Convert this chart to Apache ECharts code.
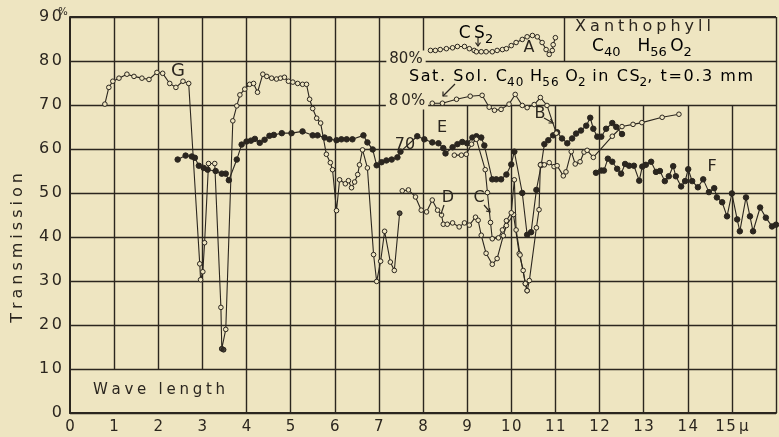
<!DOCTYPE html>
<html><head><meta charset="utf-8">
<script src="https://cdn.jsdelivr.net/npm/echarts@6/dist/echarts.min.js"></script>
<style>html,body{margin:0;padding:0;background:#eee5c1}#c{width:779px;height:437px}</style>
</head><body><div id="c"></div><script>
// ---------- data (wavelength in micron, transmission in %) ----------
const xTickValues = [0,1,2,3,4,5,6,7,8,9,10,11,12,13,14,15];
const yTickValues = [0,10,20,30,40,50,60,70,80,90];

const curveG = [[0.79,70.2],[0.88,74.0],[0.97,75.4],[1.11,76.1],[1.29,77.0],[1.45,76.5],[1.63,76.1],[1.79,75.8],[1.97,77.4],[2.10,77.2],[2.26,74.9],[2.40,74.0],[2.56,75.4],[2.69,74.9],[2.94,33.9],[2.96,30.3],[3.01,32.1],[3.05,38.7],[3.14,56.7],[3.28,56.7],[3.42,24.0],[3.44,14.6],[3.48,14.4],[3.53,19.0],[3.69,66.4],[3.78,69.8],[3.85,72.3],[3.96,73.6],[4.07,74.7],[4.16,74.9],[4.25,72.9],[4.37,77.0],[4.46,76.5],[4.57,76.1],[4.68,75.9],[4.77,76.1],[4.86,76.3],[4.95,75.4],[5.05,75.2],[5.16,74.9],[5.27,74.7],[5.36,74.7],[5.43,71.3],[5.50,69.2],[5.59,67.0],[5.68,65.9],[5.81,58.8],[5.90,56.9],[5.95,55.3],[6.04,46.0],[6.11,53.0],[6.24,52.1],[6.31,52.8],[6.38,51.2],[6.45,52.5],[6.52,54.2],[6.56,56.4],[6.63,59.8],[6.74,55.7],[6.88,36.0],[6.95,29.9],[7.04,34.5],[7.13,41.3],[7.26,34.3],[7.35,32.4],[7.47,45.4]];
const curveGDarkPoints = [[3.44,14.6],[3.48,14.4],[7.47,45.4]];

const curveE = [[2.44,57.6],[2.62,58.5],[2.76,58.3],[2.83,58.0],[2.92,56.2],[3.03,55.7],[3.12,55.3],[3.30,55.0],[3.44,54.4],[3.53,54.4],[3.60,52.9],[3.78,57.6],[3.89,61.0],[4.00,61.7],[4.10,61.9],[4.19,62.3],[4.30,61.4],[4.41,62.1],[4.52,63.0],[4.62,63.2],[4.80,63.6],[5.02,63.6],[5.27,64.0],[5.50,63.1],[5.61,63.1],[5.77,62.6],[5.88,62.2],[6.04,62.0],[6.15,62.2],[6.27,62.2],[6.40,62.2],[6.65,63.1],[6.74,61.5],[6.86,59.9],[6.95,56.3],[7.06,57.0],[7.17,57.4],[7.29,57.6],[7.42,58.1],[7.49,59.4],[7.87,62.9],[8.03,62.2],[8.21,61.5],[8.35,61.3],[8.46,60.2],[8.51,59.0],[8.67,60.4],[8.78,61.1],[8.89,61.6],[9.00,61.3],[9.12,62.6],[9.21,62.9],[9.32,62.6],[9.39,60.8],[9.57,53.1],[9.66,53.1],[9.77,53.1],[9.89,54.2],[10.00,56.5],[10.07,59.4],[10.25,50.0],[10.36,40.5],[10.45,41.1],[10.57,50.7],[10.68,56.4],[10.75,61.1],[10.84,62.0],[10.95,63.1],[11.04,63.8],[11.15,62.4],[11.27,61.3],[11.38,62.4],[11.47,63.5],[11.58,64.2],[11.70,65.3],[11.79,67.1],[11.86,64.6],[11.95,62.8],[12.04,62.8],[12.15,64.6],[12.29,65.9],[12.38,65.0],[12.51,63.4]];

const curveD = [[7.53,50.5],[7.67,50.7],[7.83,49.1],[7.96,46.1],[8.08,45.7],[8.21,48.4],[8.33,46.1],[8.42,45.0],[8.46,42.9],[8.55,42.9],[8.67,43.2],[8.82,42.3],[8.94,43.2],[9.05,42.7],[9.19,44.5],[9.25,43.8],[9.32,40.4],[9.43,36.3],[9.57,33.8],[9.68,35.1],[9.82,40.3],[9.89,42.6],[10.05,45.1],[10.18,36.2],[10.27,32.4],[10.32,29.4],[10.36,27.8],[10.41,30.1],[10.57,42.1],[10.63,46.2],[10.66,56.4],[10.75,56.4],[10.86,56.9],[10.97,56.0],[11.04,56.2],[11.18,53.9],[11.24,54.8],[11.36,59.4],[11.45,56.6],[11.56,57.1],[11.65,59.3],[11.72,59.7],[11.86,58.1],[12.29,62.9],[12.51,65.1],[12.76,65.6],[12.96,66.0],[13.42,67.2],[13.80,67.9]];

const curveC = [[8.71,58.6],[8.87,58.6],[8.98,58.8],[9.10,61.1],[9.21,62.2],[9.41,55.3],[9.46,50.1],[9.53,43.3],[9.57,39.6],[9.71,39.8],[9.80,41.6],[9.89,43.7],[10.00,45.5],[10.07,53.0],[10.11,41.6],[10.20,35.9],[10.32,29.4],[10.36,27.8]];

const curveB = [[8.21,70.4],[8.44,70.4],[8.76,71.3],[9.07,72.0],[9.34,72.2],[9.50,69.5],[9.62,68.8],[9.77,69.0],[9.95,70.2],[10.09,72.4],[10.25,69.9],[10.36,69.4],[10.52,70.1],[10.66,71.7],[10.81,69.9],[11.02,63.6]];

const curveA = [[8.17,82.4],[8.28,82.4],[8.39,82.6],[8.53,82.8],[8.67,83.0],[8.78,83.3],[8.94,83.3],[9.05,82.8],[9.16,82.4],[9.21,82.1],[9.32,82.1],[9.43,82.1],[9.57,82.1],[9.68,82.4],[9.80,82.6],[9.89,82.8],[10.00,83.5],[10.11,84.2],[10.25,84.9],[10.36,85.5],[10.48,85.8],[10.59,85.5],[10.70,84.2],[10.79,82.6],[10.86,81.5],[10.93,82.4],[10.95,83.7],[11.00,85.3]];

const curveF = [[11.92,54.6],[12.04,55.1],[12.10,55.1],[12.19,57.8],[12.29,57.1],[12.40,55.5],[12.49,54.4],[12.58,56.6],[12.67,56.2],[12.78,56.2],[12.90,52.8],[12.97,56.0],[13.05,56.4],[13.17,57.1],[13.28,54.8],[13.37,55.0],[13.48,52.7],[13.57,53.8],[13.67,56.1],[13.73,53.8],[13.85,51.5],[13.94,52.7],[14.01,55.4],[14.10,52.7],[14.23,51.3],[14.35,53.1],[14.48,50.2],[14.60,51.1],[14.66,49.0],[14.78,47.9],[14.89,44.7],[15.00,49.9],[15.12,44.0],[15.18,41.3],[15.32,49.0],[15.41,44.7],[15.48,41.3],[15.64,46.7],[15.77,44.4],[15.91,42.4],[16.00,42.8]];

// vertical rulings of the printed grid: [x, yFrom, yTo]
const vRulings = [[1,10,90],[2,10,90],[3,10,90],[4,0,90],[5,0,90],[6,0,90],[7,0,90],[8,0,70],[8,80,90],[9,0,70],[10,0,70],[11,0,70],[12,0,70],[13,0,70],[14,0,70],[15,0,70],[16,0,90],[11.2,80,90]];

// ---------- drawing ----------
const INK = '#2b261f', BG = '#eee5c1', FONT = 'DejaVu Sans';
const hair = s => String(s).split('').join('\u200a');

function curve(name, data, filled, z) {
  return {
    type: 'line', name, data, z: z || 4, symbol: 'circle',
    symbolSize: filled ? 5.5 : 4.6, showSymbol: true, animation: false, silent: true,
    lineStyle: { color: INK, width: 1.1 },
    itemStyle: { color: filled ? INK : BG, borderColor: INK, borderWidth: 1 },
    emphasis: { disabled: true }
  };
}

const chart = echarts.init(document.getElementById('c'), null, { renderer: 'canvas' });
chart.setOption({
  backgroundColor: BG,
  animation: false,
  grid: { left: 70, right: 2, top: 17, bottom: 24, containLabel: false },
  xAxis: {
    type: 'value', min: 0, max: 16, interval: 1,
    axisLine: { show: true, onZero: false, lineStyle: { color: INK, width: 2 } },
    axisTick: { show: false }, splitLine: { show: false },
    axisLabel: { color: INK, fontFamily: FONT, fontSize: 15, margin: 7,
      formatter: v => v === 16 ? '' : (v === 15 ? hair('15') + '\u2009\u03bc' : hair(v)) }
  },
  yAxis: {
    type: 'value', min: 0, max: 90, interval: 10,
    axisLine: { show: true, onZero: false, lineStyle: { color: INK, width: 2 } },
    axisTick: { show: false },
    splitLine: { show: true, lineStyle: { color: INK, width: 1.4 } },
    axisLabel: { color: INK, fontFamily: FONT, fontSize: 16, margin: 8, formatter: v => v.toString().split('').join('\u2006') }
  },
  series: [
    { type: 'lines', coordinateSystem: 'cartesian2d', z: 1, silent: true, animation: false,
      lineStyle: { color: INK, width: 1.4, opacity: 1 },
      data: vRulings.map(r => ({ coords: [[r[0], r[1]], [r[0], r[2]]] })) },
    { type: 'lines', coordinateSystem: 'cartesian2d', z: 1, silent: true, animation: false,
      lineStyle: { color: INK, width: 2.2, opacity: 1 },
      data: [{ coords: [[0, 90], [16, 90]] }] },
    curve('G', curveG, false),
    { type: 'scatter', data: curveGDarkPoints, z: 5, symbolSize: 5.5, silent: true, animation: false,
      itemStyle: { color: INK } },
    curve('E', curveE, true),
    curve('D', curveD, false),
    curve('C', curveC, false),
    curve('B', curveB, false),
    curve('A', curveA, false),
    curve('F', curveF, true)
  ]
});

// ---------- annotations ----------
const T = (text, x, y, size, extra) => Object.assign({ type: 'text', x, y, z: 20, silent: true,
  style: Object.assign({ text, fill: INK, font: size + 'px "' + FONT + '"', align: 'center', verticalAlign: 'middle' }, extra || {}) });
const subRich = {
  n: { fontSize: 17, fontFamily: FONT, color: INK, lineHeight: 24, verticalAlign: 'middle' },
  s: { fontSize: 13, fontFamily: FONT, color: INK, lineHeight: 24, verticalAlign: 'bottom' }
};
const subRichSm = {
  n: { fontSize: 16, fontFamily: FONT, color: INK, lineHeight: 23, verticalAlign: 'middle' },
  s: { fontSize: 12, fontFamily: FONT, color: INK, lineHeight: 23, verticalAlign: 'bottom' }
};
const L = (pts, w) => ({ type: 'polyline', z: 20, silent: true, shape: { points: pts }, style: { stroke: INK, lineWidth: w || 1.2, fill: null } });

chart.setOption({
  graphic: [
    T('%', 63, 12, 10),
    { type: 'text', x: 18, y: 248, rotation: Math.PI / 2, z: 20, silent: true,
      style: { text: 'Transmission'.split('').join('\u2005'), fill: INK, font: '16px "' + FONT + '"', align: 'center', verticalAlign: 'middle' } },
    T('Wave length'.split('').join('\u2005'), 159, 390, 15),
    T('G', 178, 71, 18), T('E', 442, 128, 16), T('D', 448, 198, 16), T('C', 479, 198, 16),
    T('B', 540, 114, 16), T('F', 712, 167, 16), T('A', 529, 48, 16),
    { type: 'text', x: 476, y: 34, z: 20, silent: true,
      style: { text: '{n|C\u2009S}{s|2}', rich: subRich, align: 'center', verticalAlign: 'middle' } },
    T('80%', 406, 59, 15, { backgroundColor: BG, padding: [1, 3] }),
    T('8\u20090%', 407, 101, 15, { backgroundColor: BG, padding: [1, 3] }),
    T('70', 405, 145, 16),
    { type: 'text', x: 581, y: 77, z: 20, silent: true,
      style: { text: '{n|' + hair('Sat. Sol. C') + '}{s|' + hair('40') + '}{n|' + hair(' H') + '}{s|' + hair('56') + '}{n|' + hair(' O') + '}{s|2}{n|' + hair(' in CS') + '}{s|2}{n|' + hair(', t=0.3 mm') + '}',
        rich: subRichSm, align: 'center', verticalAlign: 'middle' } },
    T('Xanthophyll'.split('').join('\u2005'), 643, 27, 16),
    { type: 'text', x: 642, y: 47, z: 20, silent: true,
      style: { text: '{n|C}{s|40}{n|\u2003H}{s|56}{n|\u2009O}{s|2}', rich: subRich, align: 'center', verticalAlign: 'middle' } },
    // arrows
    L([[478, 38], [478, 46]]), L([[475.5, 42.5], [478, 46], [480.5, 42.5]]),
    L([[455, 84], [443, 96]]), L([[443, 91.5], [443, 96], [447.5, 96]]),
    L([[444, 205], [441, 214]]),
    L([[484, 205], [490, 212]]), L([[486, 211], [490, 212], [489.5, 208]]),
    L([[544, 118], [553, 123]]), L([[548.5, 123], [553, 123], [550.5, 119]])
  ]
});
</script></body></html>
